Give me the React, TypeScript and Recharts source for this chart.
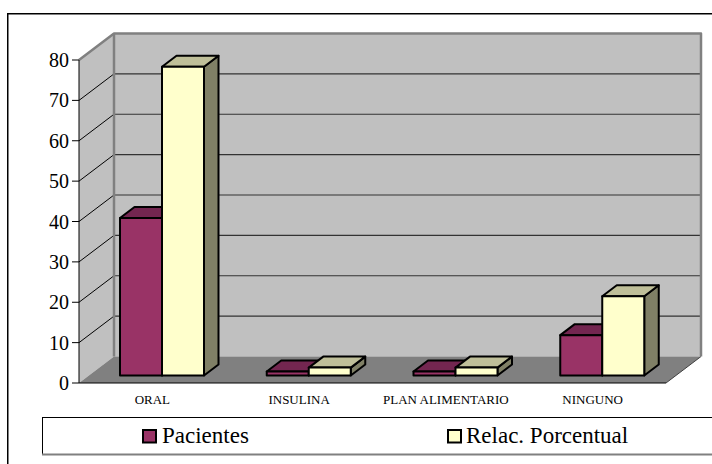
import React from 'react';
import { BarChart, Bar, XAxis, YAxis, CartesianGrid, Legend } from 'recharts';

// Tratamiento de los pacientes: número de pacientes y su relación porcentual
const categories = ['ORAL', 'INSULINA', 'PLAN ALIMENTARIO', 'NINGUNO'];
const pacientes = [39, 1, 1, 10];
const relacPorcentual = [76.47, 1.96, 1.96, 19.61];
const yTicks = [0, 10, 20, 30, 40, 50, 60, 70, 80];
const edgeTicks = [0, 1, 2, 3, 4];

const data = categories.map((name, i) => ({
  name,
  pos: i + 0.5,
  pacientes: pacientes[i],
  relac: relacPorcentual[i],
}));

const SERIF = 'Liberation Serif';

// oblique projection: depth vector of the walls and of the bars
const WALL_DX = 35;
const WALL_DY = -26.5;
const BAR_SHIFT_X = 10;
const BAR_SHIFT_Y = -7.5;
const BAR_DX = 14.5;
const BAR_DY = -11;

const WALL_FILL = '#c0c0c0';
const FLOOR_FILL = '#808080';
const WALL_EDGE = '#808080';

const makeBox = (front: string, top: string, side: string) => (props: any) => {
  const { x, y, width, height } = props;
  if (width == null || height == null) return <g />;
  const fx = x + BAR_SHIFT_X;
  const fy = y + BAR_SHIFT_Y;
  const r = fx + width;
  const b = fy + height;
  return (
    <g stroke="#000" strokeWidth={2} strokeLinejoin="round">
      <polygon
        points={`${r},${fy} ${r + BAR_DX},${fy + BAR_DY} ${r + BAR_DX},${b + BAR_DY} ${r},${b}`}
        fill={side}
      />
      <polygon
        points={`${fx},${fy} ${fx + BAR_DX},${fy + BAR_DY} ${r + BAR_DX},${fy + BAR_DY} ${r},${fy}`}
        fill={top}
      />
      <rect x={fx} y={fy} width={width} height={height} fill={front} />
    </g>
  );
};

const PacientesBox = makeBox('#993366', '#732650', '#4d1933');
const RelacBox = makeBox('#ffffcc', '#bfbf99', '#808066');

// walls, floor and the gridlines on the left and back walls
const renderGridLine = (props: any) => {
  const { x, y, width, height, y1, index } = props;
  const left = x;
  const right = x + width;
  const top = y;
  const bottom = y + height;
  const bl = left + WALL_DX;
  const br = right + WALL_DX;
  const parts: React.ReactNode[] = [];
  if (index === 0) {
    parts.push(
      <g key="walls">
        <rect x={bl} y={top + WALL_DY} width={br - bl} height={height} fill={WALL_FILL} />
        <polygon
          points={`${left},${bottom} ${left},${top} ${bl},${top + WALL_DY} ${bl},${bottom + WALL_DY}`}
          fill={WALL_FILL}
        />
        <polygon
          points={`${left},${bottom} ${right},${bottom} ${br},${bottom + WALL_DY} ${bl},${bottom + WALL_DY}`}
          fill={FLOOR_FILL}
        />
        <line x1={right} y1={bottom} x2={br} y2={bottom + WALL_DY} stroke="#404040" strokeWidth={1} />
      </g>
    );
  }
  const atBottom = Math.abs(y1 - bottom) < 0.5;
  const atTop = Math.abs(y1 - top) < 0.5;
  if (!atBottom && !atTop) {
    parts.push(
      <g key="lines">
        <line x1={left} y1={y1} x2={bl} y2={y1 + WALL_DY} stroke="#000" strokeWidth={1} />
        <line x1={bl} y1={y1 + WALL_DY} x2={br} y2={y1 + WALL_DY} stroke="#333" strokeWidth={1.2} />
      </g>
    );
  }
  if (atTop) {
    parts.push(
      <g key="edges" stroke={WALL_EDGE} strokeWidth={2.5} fill="none" strokeLinejoin="round">
        <polyline points={`${left},${top} ${bl},${top + WALL_DY} ${br},${top + WALL_DY} ${br},${bottom + WALL_DY}`} />
        <line x1={bl} y1={top + WALL_DY} x2={bl} y2={bottom + WALL_DY} />
      </g>
    );
  }
  return <g key={`grid-${index}`}>{parts}</g>;
};

const CategoryTick = (props: any) => {
  const { x, y, payload } = props;
  return (
    <text x={x} y={y + 21} textAnchor="middle" fill="#000" style={{ fontSize: 13, fontFamily: SERIF }}>
      {payload.value}
    </text>
  );
};

const EmptyTick = () => <g />;

const LEGEND_SWATCH_X = [101, 406];
const LEGEND_TEXT_X = [120, 424];

const renderLegend = (props: any) => {
  const payload = props.payload || [];
  return (
    <svg width={670} height={40} style={{ display: 'block', overflow: 'hidden' }}>
      <line x1={0} y1={0.5} x2={670} y2={0.5} stroke="#000" strokeWidth={1} />
      <line x1={0.5} y1={0} x2={0.5} y2={37} stroke="#000" strokeWidth={1} />
      <line x1={0} y1={37.5} x2={670} y2={37.5} stroke="#808080" strokeWidth={2} />
      {payload.map((entry: any, i: number) => (
        <g key={entry.value}>
          <rect
            x={LEGEND_SWATCH_X[i]}
            y={13}
            width={13}
            height={12.5}
            fill={entry.color}
            stroke="#000"
            strokeWidth={2}
          />
          <text x={LEGEND_TEXT_X[i]} y={26} fill="#000" style={{ fontSize: 23, fontFamily: SERIF }}>
            {entry.value}
          </text>
        </g>
      ))}
    </svg>
  );
};

export default function App() {
  return (
    <div
      style={{
        position: 'fixed',
        left: 0,
        top: 0,
        width: 712,
        height: 464,
        overflow: 'hidden',
        background: '#fff',
        fontFamily: SERIF,
      }}
    >
      <style>{'html,body{margin:0;padding:0;overflow:hidden;background:#fff}'}</style>
      <svg
        width={712}
        height={464}
        style={{ position: 'absolute', left: 0, top: 0, display: 'block' }}
      >
        <polyline points="7.75,464 7.75,13.75 712,13.75" fill="none" stroke="#000" strokeWidth={1.5} />
      </svg>
      <div style={{ position: 'absolute', left: 0, top: 0, width: 712, height: 464, overflow: 'hidden' }}>
        <BarChart
          width={712}
          height={464}
          data={data}
          margin={{ top: 60, right: 46, bottom: 51, left: 29 }}
          barGap={0}
          barSize={42}
        >
          <CartesianGrid vertical={false} horizontal={renderGridLine} />
          <XAxis
            xAxisId="edge"
            type="number"
            dataKey="pos"
            domain={[0, 4]}
            ticks={edgeTicks}
            height={0}
            axisLine={false}
            tickLine={{ stroke: '#000', strokeWidth: 1 }}
            tickSize={7}
            tick={EmptyTick}
            stroke="#000"
          />
          <XAxis
            dataKey="name"
            height={30}
            axisLine={{ stroke: '#000', strokeWidth: 1 }}
            tickLine={false}
            tickSize={0}
            tickMargin={0}
            tick={CategoryTick}
            interval={0}
          />
          <YAxis
            domain={[0, 80]}
            ticks={yTicks}
            interval={0}
            width={50}
            stroke="#000"
            tickSize={7}
            tickMargin={3}
            tick={{ fill: '#000', fontSize: 20, fontFamily: SERIF, style: { fontFamily: SERIF } }}
          />
          <Legend
            content={renderLegend}
            wrapperStyle={{ position: 'absolute', left: 42, top: 417, bottom: 'auto', width: 670, height: 0 }}
          />
          <Bar dataKey="pacientes" name="Pacientes" fill="#993366" shape={PacientesBox} isAnimationActive={false} />
          <Bar dataKey="relac" name="Relac. Porcentual" fill="#ffffcc" shape={RelacBox} isAnimationActive={false} />
        </BarChart>
      </div>
    </div>
  );
}
